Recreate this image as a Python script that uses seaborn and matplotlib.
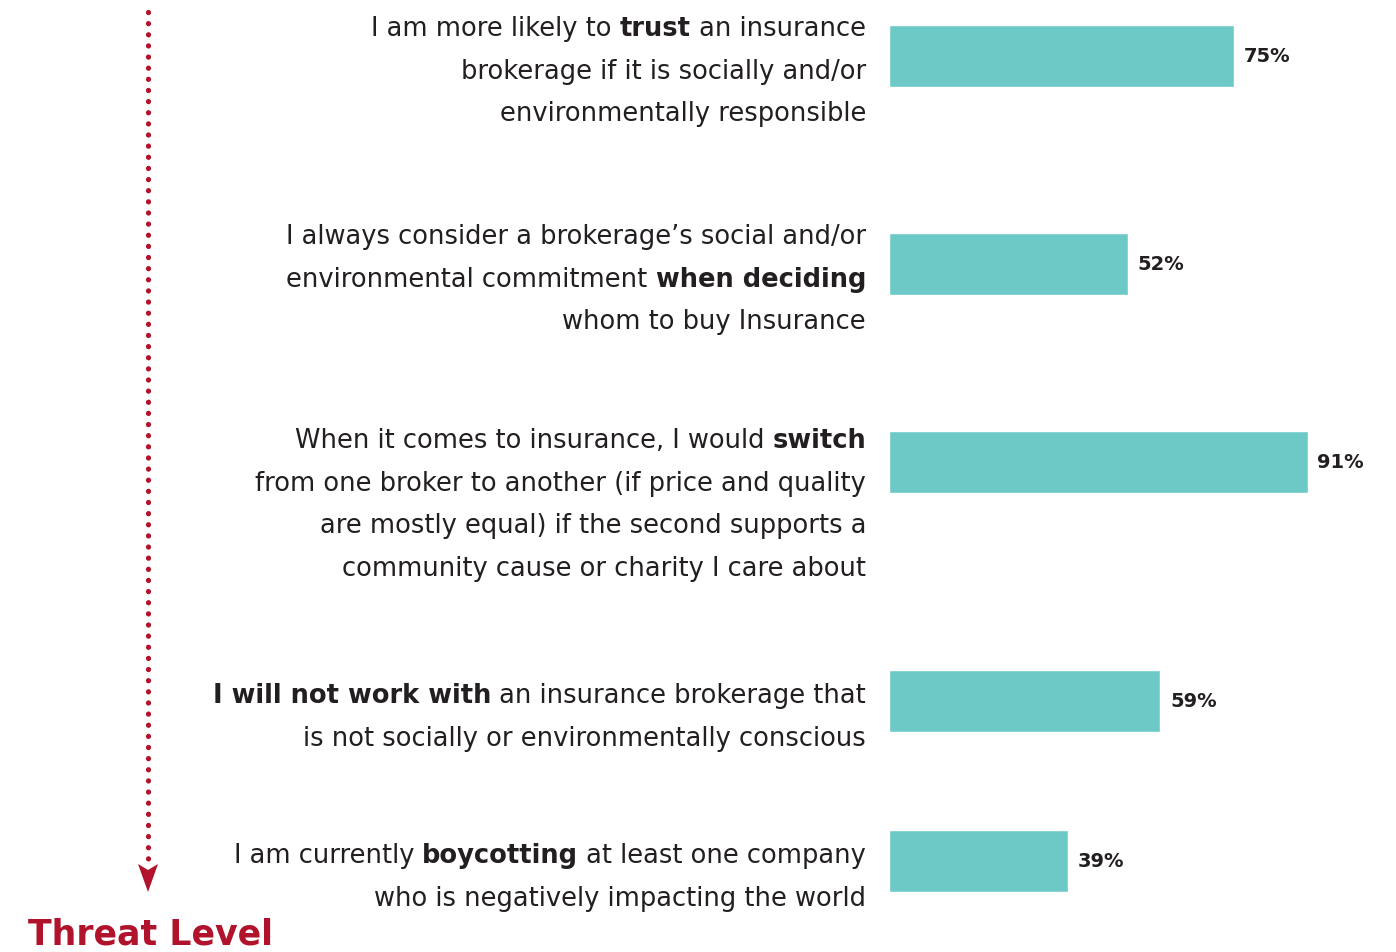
import matplotlib
matplotlib.use("Agg")
import matplotlib.pyplot as plt
from matplotlib.patches import Polygon
from matplotlib.lines import Line2D
import seaborn as sns

# Survey statements (each line is a list of (text, bold) runs) and shares
statements = [
    [[("I am more likely to ", False), ("trust", True), (" an insurance", False)],
     [("brokerage if it is socially and/or", False)],
     [("environmentally responsible", False)]],
    [[("I always consider a brokerage\u2019s social and/or", False)],
     [("environmental commitment ", False), ("when deciding", True)],
     [("whom to buy Insurance", False)]],
    [[("When it comes to insurance, I would ", False), ("switch", True)],
     [("from one broker to another (if price and quality", False)],
     [("are mostly equal) if the second supports a", False)],
     [("community cause or charity I care about", False)]],
    [[("I will not work with", True), (" an insurance brokerage that", False)],
     [("is not socially or environmentally conscious", False)]],
    [[("I am currently ", False), ("boycotting", True), (" at least one company", False)],
     [("who is negatively impacting the world", False)]],
]
shares = [75, 52, 91, 59, 39]
share_labels = [f"{v}%" for v in shares]
axis_title = "Threat Level"

# Layout (pixel units of the 1396x953 canvas)
W, H = 1396, 953
row_centers = [57, 265, 463, 702, 862]
first_line_baseline = [36, 244, 448, 703, 863]
line_step = 42.7
text_right = 866
bar_left = 889
px_per_pct = 4.6

BAR = "#6DC9C5"
RED = "#B0132B"
INK = "#231F20"
FONT = "DejaVu Sans"

sns.set_theme(style="white")
plt.rcParams["font.family"] = [FONT]

fig = plt.figure(figsize=(W / 100, H / 100), dpi=100)
fig.patch.set_facecolor("white")

ax = fig.add_axes([bar_left / W, 0, 1 - bar_left / W, 1])
sns.barplot(x=shares, y=row_centers, orient="y", native_scale=True,
            width=62 / 160, color=BAR, saturation=1, errorbar=None, ax=ax)
ax.set_xlim(0, (W - bar_left) / px_per_pct)
ax.set_ylim(H, 0)
for cont in ax.containers:
    ax.bar_label(cont, labels=share_labels, padding=7, fontsize=14,
                 fontweight="bold", color=INK, family=FONT)
ax.axis("off")


def fx(x):
    return x / W


def fy(y):
    return 1 - y / H


renderer = fig.canvas.get_renderer()
for lines, base in zip(statements, first_line_baseline):
    for i, runs in enumerate(lines):
        y = base + i * line_step
        x_right = text_right
        for txt, bold in reversed(runs):
            t = fig.text(fx(x_right), fy(y), txt, ha="right", va="baseline",
                         fontsize=18.5, color=INK,
                         fontweight="bold" if bold else "normal")
            bb = t.get_window_extent(renderer)
            x_right = bb.x0

# Dotted threat arrow
fig.add_artist(Line2D([fx(148), fx(148)], [fy(13), fy(864)],
                      transform=fig.transFigure, color=RED, linewidth=3.8,
                      linestyle=(0, (0.01, 2.1)), dash_capstyle="round"))
head = [(138, 865), (148, 871), (158, 865), (148, 893)]
fig.add_artist(Polygon([(fx(a), fy(b)) for a, b in head], closed=True,
                       transform=fig.transFigure, facecolor=RED,
                       edgecolor="none"))
fig.text(fx(28), fy(945), axis_title, ha="left", va="baseline",
         fontsize=25, fontweight="bold", color=RED)

fig.savefig("out.png", dpi=100, facecolor="white")
